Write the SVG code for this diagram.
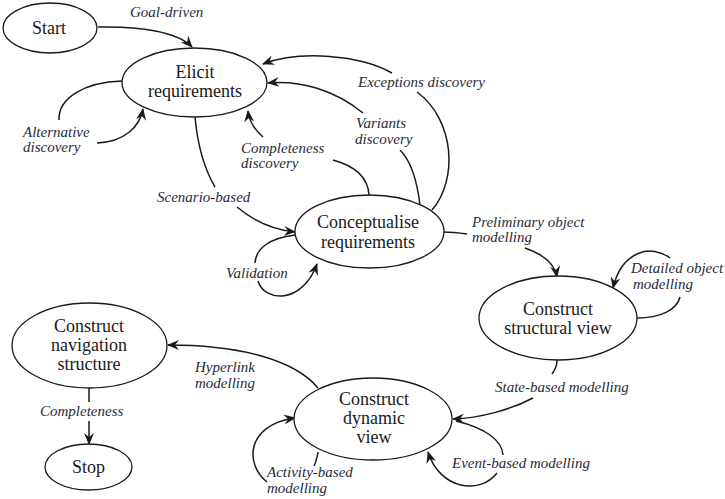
<svg xmlns="http://www.w3.org/2000/svg" width="725" height="499" viewBox="0 0 725 499">
  <style>
    .node ellipse { fill: #ffffff; stroke: #1a1a1a; stroke-width: 1.3; }
    .node text { font-family: "Liberation Serif", "Times New Roman", serif; font-size: 18px; fill: #1a1a1a; text-anchor: middle; }
    .edges path { fill: none; stroke: #1a1a1a; stroke-width: 1.5; }
    .edges path.arr { marker-end: url(#head); }
    .lbl { font-family: "Liberation Serif", "Times New Roman", serif; font-style: italic; font-size: 15px; fill: #2a2a3a; }
  </style>
  <defs>
    <marker id="head" viewBox="0 0 12 10" refX="11" refY="5" markerWidth="12" markerHeight="10" markerUnits="userSpaceOnUse" orient="auto">
      <path d="M0,0 L12,5 L0,10 L4,5 Z" fill="#1a1a1a"/>
    </marker>
  </defs>
  <rect width="725" height="499" fill="#ffffff"/>

  <g class="edges">
    <!-- Goal-driven -->
    <path class="arr" d="M98,27 C140,26 178,32 192,47"/>
    <!-- Alternative discovery loop -->
    <path d="M122,81 C85,82 58,98 59,120"/>
    <path class="arr" d="M97,143 C125,142 140,126 143,109"/>
    <!-- Scenario-based -->
    <path d="M195,117 C198,150 205,170 215,187"/>
    <path class="arr" d="M237,207 C255,222 275,230 295,232"/>
    <!-- Validation loop -->
    <path d="M295,235 C270,238 256,248 255,263"/>
    <path class="arr" d="M258,281 C264,302 302,305 317,264"/>
    <!-- Completeness discovery -->
    <path d="M369,195 C368,178 355,166 333,160"/>
    <path class="arr" d="M263,137 C255,130 249,121 248,111"/>
    <!-- Variants discovery -->
    <path d="M420,205 C417,180 410,160 400,150"/>
    <path class="arr" d="M363,113 C335,90 300,80 268,83"/>
    <!-- Exceptions discovery -->
    <path d="M432,210 C458,180 455,120 417,92"/>
    <path class="arr" d="M392,73 C360,55 300,50 263,64"/>
    <!-- Preliminary object modelling -->
    <path d="M443,232 C452,232 460,233 467,234"/>
    <path class="arr" d="M525,248 C545,255 555,265 557,277"/>
    <!-- Detailed object modelling loop -->
    <path d="M637,318 C660,318 677,310 680,297"/>
    <path class="arr" d="M670,258 C652,244 622,250 613,288"/>
    <!-- State-based modelling -->
    <path d="M557,360 C557,364 555,370 552,374"/>
    <path class="arr" d="M533,398 C510,410 480,418 453,419"/>
    <!-- Event-based modelling loop -->
    <path d="M456,421 C485,428 502,440 503,455"/>
    <path class="arr" d="M497,473 C480,495 440,490 428,452"/>
    <!-- Hyperlink modelling -->
    <path class="arr" d="M318,388 C295,360 240,345 168,345"/>
    <!-- Activity-based modelling loop -->
    <path d="M318,452 C317,458 316,462 314,466"/>
    <path class="arr" d="M267,482 C245,465 245,425 295,418"/>
    <!-- Completeness -->
    <path d="M89,388 L89,402"/>
    <path class="arr" d="M89,421 L89,444"/>
  </g>

  <g id="start" class="node">
    <ellipse cx="50" cy="28" rx="47" ry="25"/>
    <text x="49" y="34">Start</text>
  </g>
  <g id="elicit" class="node">
    <ellipse cx="194.5" cy="82.5" rx="72.5" ry="34.5"/>
    <text x="195" y="78">Elicit</text>
    <text x="195" y="97">requirements</text>
  </g>
  <g id="conceptualise" class="node">
    <ellipse cx="369.5" cy="231.5" rx="74.5" ry="36.5"/>
    <text x="368" y="228">Conceptualise</text>
    <text x="368" y="248">requirements</text>
  </g>
  <g id="structural" class="node">
    <ellipse cx="558" cy="318" rx="79" ry="42"/>
    <text x="558" y="315">Construct</text>
    <text x="558" y="334">structural view</text>
  </g>
  <g id="dynamic" class="node">
    <ellipse cx="373" cy="419" rx="79" ry="41"/>
    <text x="374" y="405">Construct</text>
    <text x="374" y="424">dynamic</text>
    <text x="374" y="443">view</text>
  </g>
  <g id="navigation" class="node">
    <ellipse cx="89.5" cy="345.5" rx="77.5" ry="42.5"/>
    <text x="89" y="332">Construct</text>
    <text x="89" y="351">navigation</text>
    <text x="89" y="370">structure</text>
  </g>
  <g id="stop" class="node">
    <ellipse cx="88.5" cy="467" rx="43.5" ry="23"/>
    <text x="88.5" y="473">Stop</text>
  </g>

  <g id="labels">
    <text class="lbl" x="130" y="17">Goal-driven</text>
    <text class="lbl" x="23" y="137">Alternative</text>
    <text class="lbl" x="23" y="152">discovery</text>
    <text class="lbl" x="241" y="153">Completeness</text>
    <text class="lbl" x="241" y="168">discovery</text>
    <text class="lbl" x="356" y="128">Variants</text>
    <text class="lbl" x="355" y="144">discovery</text>
    <text class="lbl" x="358" y="87">Exceptions discovery</text>
    <text class="lbl" x="157" y="202">Scenario-based</text>
    <text class="lbl" x="226" y="278">Validation</text>
    <text class="lbl" x="472" y="227">Preliminary object</text>
    <text class="lbl" x="472" y="242">modelling</text>
    <text class="lbl" x="631" y="273">Detailed object</text>
    <text class="lbl" x="633" y="289">modelling</text>
    <text class="lbl" x="195" y="372">Hyperlink</text>
    <text class="lbl" x="195" y="388">modelling</text>
    <text class="lbl" x="495" y="392">State-based modelling</text>
    <text class="lbl" x="267" y="477">Activity-based</text>
    <text class="lbl" x="267" y="493">modelling</text>
    <text class="lbl" x="452" y="468">Event-based modelling</text>
    <text class="lbl" x="40" y="416">Completeness</text>
  </g>
</svg>
